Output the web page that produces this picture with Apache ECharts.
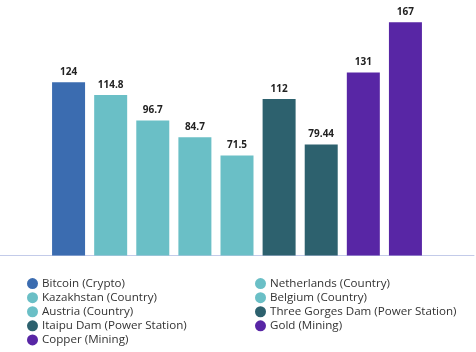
<!DOCTYPE html>
<html>
<head>
<meta charset="utf-8">
<script src="https://cdn.jsdelivr.net/npm/echarts@6/dist/echarts.min.js"></script>
<style>
  html, body { margin: 0; padding: 0; background: #fff; }
  #chart { width: 476px; height: 352px; }
</style>
</head>
<body>
<div id="chart"></div>
<script>
// one series per bar, each gets its own legend entry
const names = [
  'Bitcoin (Crypto)',
  'Kazakhstan (Country)',
  'Austria (Country)',
  'Netherlands (Country)',
  'Belgium (Country)',
  'Itaipu Dam (Power Station)',
  'Three Gorges Dam (Power Station)',
  'Copper (Mining)',
  'Gold (Mining)'
]
const values = [124, 114.8, 96.7, 84.7, 71.5, 112, 79.44, 131, 167]
const groups = ['crypto', 'country', 'country', 'country', 'country', 'power', 'power', 'mining', 'mining']
const groupColors = {crypto: '#3b6cb0', country: '#6abfc6', power: '#2d616e', mining: '#5826a5'}

const leftLegend = ['Bitcoin (Crypto)', 'Kazakhstan (Country)', 'Austria (Country)', 'Itaipu Dam (Power Station)', 'Copper (Mining)']
const rightLegend = ['Netherlands (Country)', 'Belgium (Country)', 'Three Gorges Dam (Power Station)', 'Gold (Mining)']

const font = 'Open Sans'

const legendBase = {
  orient: 'vertical',
  top: 271.5,
  height: 100,
  icon: 'circle',
  itemWidth: 11,
  itemHeight: 11,
  itemGap: 0,
  selectedMode: false,
  textStyle: {fontFamily: font, fontSize: 11.6, color: '#333', lineHeight: 14.1, padding: [0, 0, 0, -1]}
}

const chart = echarts.init(document.getElementById('chart'))
chart.setOption({
  animation: false,
  legend: [
    Object.assign({}, legendBase, {left: 22, data: leftLegend}),
    Object.assign({}, legendBase, {left: 250, data: rightLegend})
  ],
  grid: {left: 0, right: 2, top: 4, height: 251.5, containLabel: false},
  xAxis: {
    type: 'category',
    data: [''],
    axisLine: {lineStyle: {color: '#c3cbe9', width: 1}},
    axisTick: {show: false},
    axisLabel: {show: false}
  },
  yAxis: {type: 'value', min: 0, max: 180, show: false, splitLine: {show: false}},
  series: names.map((n, i) => ({
    name: n,
    type: 'bar',
    data: [values[i]],
    barWidth: 33,
    barGap: '27.6%',
    itemStyle: {color: groupColors[groups[i]]},
    label: {
      show: true,
      position: 'top',
      distance: 5,
      fontFamily: font,
      fontWeight: 'bold',
      fontSize: 10,
      color: '#222'
    }
  }))
})
</script>
</body>
</html>
